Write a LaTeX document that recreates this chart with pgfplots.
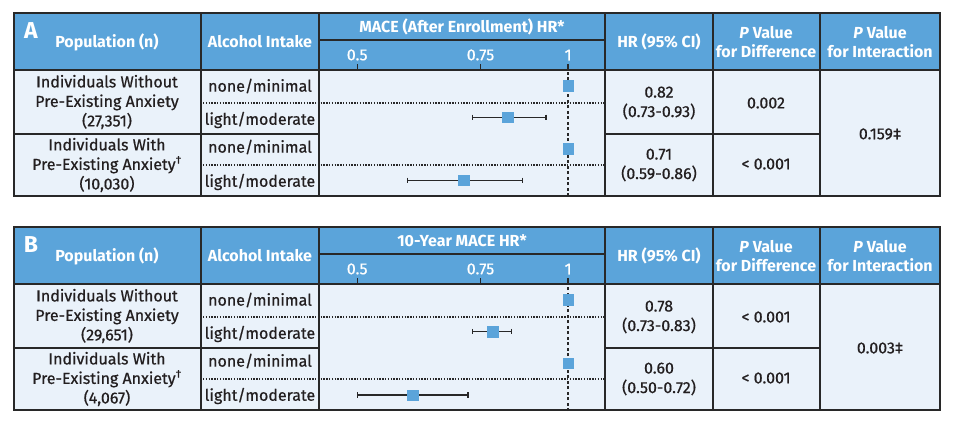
\documentclass[border=0pt]{standalone}
\usepackage{pgfplots}
\pgfplotsset{compat=1.18}
\usepackage{fontspec}
\setmainfont{Fira Sans}
\newfontfamily\medfont{Fira Sans}[FakeBold=0.6]
\definecolor{hdr}{RGB}{91,164,218}
\definecolor{bodyc}{RGB}{234,242,250}
\definecolor{sq}{RGB}{91,164,218}
\definecolor{ln}{RGB}{40,40,40}
\definecolor{txt}{RGB}{35,31,32}
\newcommand{\hf}{\fontsize{16}{19}\selectfont\bfseries\color{white}}
\newcommand{\bdf}{\medfont\fontsize{16}{19.5}\selectfont\color{txt}}
\newcommand{\grid}{%
 \fill[hdr] (14,13) rectangle (940,70);
 \fill[bodyc] (14,70) rectangle (940,196);
 \draw[ln, line width=1.5pt] (14,70) -- (940,70);
 \draw[ln, line width=1.5pt] (319,40) -- (605,40);
 \foreach \x in {201,319,605,713,820} \draw[ln, line width=1.5pt] (\x,13) -- (\x,196);
 \draw[ln, line width=1.5pt] (14,134) -- (319,134) (605,134) -- (820,134);
 \draw[ln, line width=1.4pt, dash pattern=on 1.4pt off 1.4pt] (203,103) -- (605,103) (203,165) -- (605,165);
 \draw[ln, line width=1.8pt] (14,13) rectangle (940,196);
 \node[font=\hf] at (107,42) {Population (n)};
 \node[font=\hf] at (260,42) {Alcohol Intake};
 \node[font=\hf] at (659,42) {HR (95\% CI)};
 \node[font=\hf, align=center] at (766,42) {\textit{P} Value\\for Difference};
 \node[font=\hf, align=center] at (880,42) {\textit{P} Value\\for Interaction};
 \node[font=\bdf] at (260,86) {none/minimal};
 \node[font=\bdf] at (260,120) {light/moderate};
 \node[font=\bdf] at (260,147) {none/minimal};
 \node[font=\bdf] at (260,182) {light/moderate};
}
\begin{document}
\begin{tikzpicture}
\path (0pt,0pt) rectangle (953pt,-425pt);
\begin{scope}[x=1pt,y=-1pt]
 \grid
 \node[font=\fontsize{23}{23}\selectfont\bfseries\color{white}] at (31,31) {A};
 \node[font=\hf] at (462,27) {MACE (After Enrollment) HR*};
 \node[font=\bdf, align=center] at (107,102) {Individuals Without\\Pre-Existing Anxiety\\(27,351)};
 \node[font=\bdf, align=center] at (107,165) {Individuals With\\Pre-Existing Anxiety\textsuperscript{†}\\(10,030)};
 \node[font=\bdf, align=center] at (659,103) {0.82\\(0.73-0.93)};
 \node[font=\bdf, align=center] at (659,165) {0.71\\(0.59-0.86)};
 \node[font=\bdf] at (766,103) {0.002};
 \node[font=\bdf] at (766,164) {< 0.001};
 \node[font=\bdf] at (880,134) {0.159‡};
 \begin{scope}[yshift=-214pt]
 \grid
 \node[font=\fontsize{23}{23}\selectfont\bfseries\color{white}] at (31,31) {B};
 \node[font=\hf] at (462,27) {10-Year MACE HR*};
 \node[font=\bdf, align=center] at (107,102) {Individuals Without\\Pre-Existing Anxiety\\(29,651)};
 \node[font=\bdf, align=center] at (107,165) {Individuals With\\Pre-Existing Anxiety\textsuperscript{†}\\(4,067)};
 \node[font=\bdf, align=center] at (659,103) {0.78\\(0.73-0.83)};
 \node[font=\bdf, align=center] at (659,165) {0.60\\(0.50-0.72)};
 \node[font=\bdf] at (766,103) {< 0.001};
 \node[font=\bdf] at (766,164) {< 0.001};
 \node[font=\bdf] at (880,134) {0.003‡};
 \end{scope}
\end{scope}
\begin{axis}[xmode=log, anchor=south west, at={(319pt,-196pt)}, width=286pt, height=126pt, scale only axis,
 xmin=0.441, xmax=1.129, ymin=0, ymax=4,
 axis line style={draw=none}, ytick=\empty, xtick={0.5,0.75,1}, xticklabels={0.5,0.75,1},
 xtick pos=upper, xticklabel pos=upper, tick align=outside, major tick length=6pt,
 tick style={ln, line width=1.4pt},
 xticklabel style={font=\medfont\fontsize{16}{16}\selectfont, text=white},
 clip=false]
 \addplot[ln, line width=1.4pt, dash pattern=on 3pt off 2.5pt] coordinates {(1,0) (1,4)};
 \addplot[ln, line width=1.4pt, mark=|, mark size=2.7pt, mark options={solid,line width=1.4pt}] coordinates {(0.73,2.5) (0.93,2.5)};
 \addplot[ln, line width=1.4pt, mark=|, mark size=2.7pt, mark options={solid,line width=1.4pt}] coordinates {(0.59,0.5) (0.86,0.5)};
 \addplot[sq, only marks, mark=square*, mark size=5.3pt, mark options={fill=sq, draw=sq}] coordinates {(1,3.5) (0.82,2.5) (1,1.5) (0.71,0.5)};
\end{axis}
\begin{axis}[xmode=log, anchor=south west, at={(319pt,-411pt)}, width=286pt, height=127pt, scale only axis,
 xmin=0.441, xmax=1.129, ymin=0, ymax=4,
 axis line style={draw=none}, ytick=\empty, xtick={0.5,0.75,1}, xticklabels={0.5,0.75,1},
 xtick pos=upper, xticklabel pos=upper, tick align=outside, major tick length=6pt,
 tick style={ln, line width=1.4pt},
 xticklabel style={font=\medfont\fontsize{16}{16}\selectfont, text=white},
 clip=false]
 \addplot[ln, line width=1.4pt, dash pattern=on 3pt off 2.5pt] coordinates {(1,0) (1,4)};
 \addplot[ln, line width=1.4pt, mark=|, mark size=2.7pt, mark options={solid,line width=1.4pt}] coordinates {(0.73,2.5) (0.83,2.5)};
 \addplot[ln, line width=1.4pt, mark=|, mark size=2.7pt, mark options={solid,line width=1.4pt}] coordinates {(0.50,0.5) (0.72,0.5)};
 \addplot[sq, only marks, mark=square*, mark size=5.3pt, mark options={fill=sq, draw=sq}] coordinates {(1,3.5) (0.78,2.5) (1,1.5) (0.60,0.5)};
\end{axis}
\end{tikzpicture}
\end{document}
